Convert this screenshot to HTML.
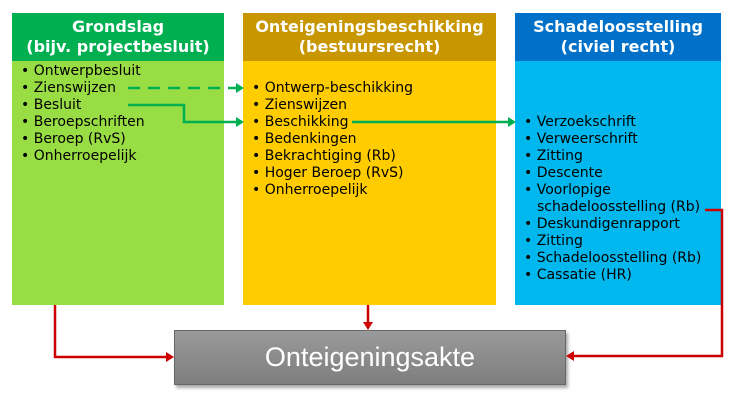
<!DOCTYPE html>
<html><head><style>
body{margin:0;width:746px;height:401px;background:#fff;position:relative;overflow:hidden;font-family:"DejaVu Sans","Liberation Sans",sans-serif}
.b{position:absolute}
.h{position:absolute;color:#fff;font-weight:bold;font-size:16px;line-height:20px;text-align:center;padding-top:4px;box-sizing:border-box;white-space:nowrap}
ul{position:absolute;margin:0;padding:0;list-style:none;font-size:14px;line-height:17px;color:#000;white-space:nowrap}
li:before{content:"• ";}
li.n:before{content:"";}
</style></head><body>
<div class="b" style="left:12px;top:13px;width:212px;height:292px;background:#99dd44"></div>
<div class="h" style="left:12px;top:13px;width:212px;height:48px;background:#00b050">Grondslag<br>(bijv. projectbesluit)</div>
<div class="b" style="left:243px;top:13px;width:253px;height:292px;background:#ffcc00"></div>
<div class="h" style="left:243px;top:13px;width:253px;height:48px;background:#c89600">Onteigeningsbeschikking<br>(bestuursrecht)</div>
<div class="b" style="left:515px;top:13px;width:206px;height:292px;background:#00b8ee"></div>
<div class="h" style="left:515px;top:13px;width:206px;height:48px;background:#0070c8">Schadeloosstelling<br>(civiel recht)</div>
<ul style="left:21px;top:63px"><li>Ontwerpbesluit</li><li>Zienswijzen</li><li>Besluit</li><li>Beroepschriften</li><li>Beroep (RvS)</li><li>Onherroepelijk</li></ul>
<ul style="left:252px;top:80px"><li>Ontwerp-beschikking</li><li>Zienswijzen</li><li>Beschikking</li><li>Bedenkingen</li><li>Bekrachtiging (Rb)</li><li>Hoger Beroep (RvS)</li><li>Onherroepelijk</li></ul>
<ul style="left:524px;top:114px"><li>Verzoekschrift</li><li>Verweerschrift</li><li>Zitting</li><li>Descente</li><li>Voorlopige</li><li class="n" style="padding-left:13px">schadeloosstelling (Rb)</li><li>Deskundigenrapport</li><li>Zitting</li><li>Schadeloosstelling (Rb)</li><li>Cassatie (HR)</li></ul>
<div class="b" style="left:174px;top:330px;width:392px;height:55px;background:linear-gradient(#9a9a9a,#7e7e7e);border:1px solid #666;box-sizing:border-box;box-shadow:2px 3px 3px #aaa;color:#fff;font-family:'Liberation Sans',sans-serif;font-size:27px;line-height:52px;text-align:center">Onteigeningsakte</div>
<svg class="b" style="left:0;top:0" width="746" height="401">
<g stroke="#00b050" stroke-width="2.5" fill="none">
<path d="M128 88H236" stroke-dasharray="12,8"/>
<path d="M128 105H184V122H236"/>
<path d="M352 122H508"/>
</g>
<g fill="#00b050"><path d="M236 83L244 88L236 93Z"/><path d="M236 117L244 122L236 127Z"/><path d="M508 117L516 122L508 127Z"/></g>
<g stroke="#cc0000" stroke-width="2.5" fill="none">
<path d="M55 305V357H167"/>
<path d="M368 305V323"/>
<path d="M705 210H722V356H573"/>
</g>
<g fill="#cc0000"><path d="M166 352L174 357L166 362Z"/><path d="M363 322L368 330L373 322Z"/><path d="M574 351L566 356L574 361Z"/></g>
</svg>
</body></html>
